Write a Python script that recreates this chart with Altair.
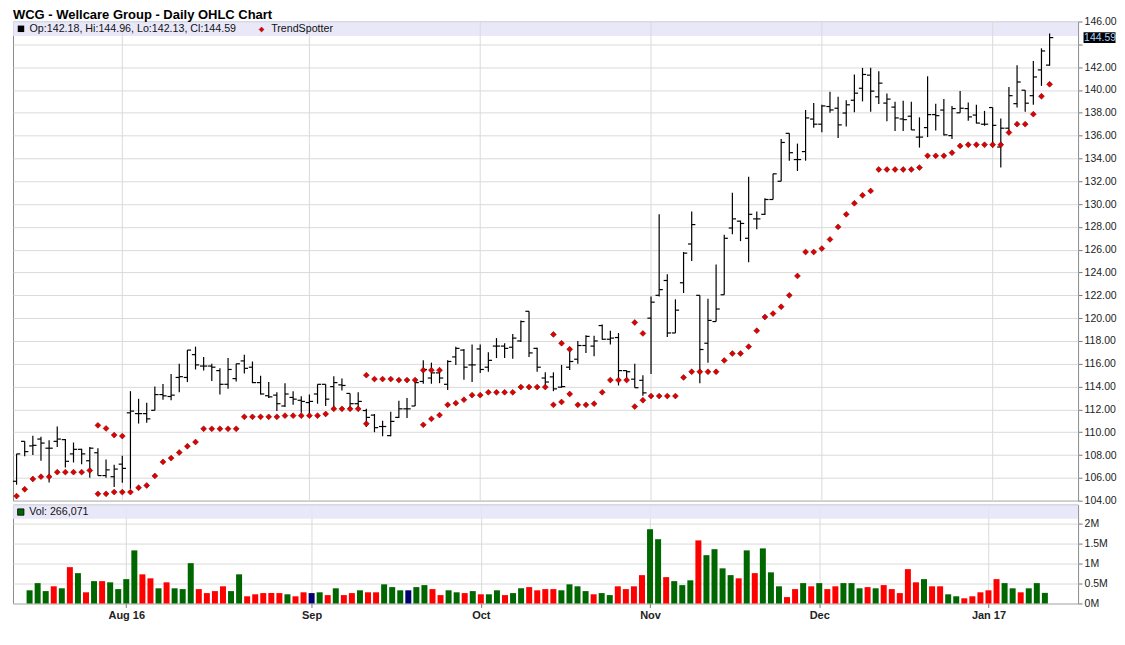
import altair as alt
import pandas as pd

chart_title = "WCG - Wellcare Group - Daily OHLC Chart"

opens = [105.7, 109.2, 108.8, 109.4, 108.6, 109.2, 109.35, 108.1, 108.5, 107.5,
         108.2, 106.2, 106.1, 107.2, 111.7, 111.63, 111.63, 111.92, 113.3, 113.13,
         114.8, 114.8, 116.8, 115.8, 115.8, 115.4, 114.2, 114.7, 116.25, 115.7,
         114.35, 113.2, 113.25, 112.3, 113.05, 112.8, 112.6, 113.35, 114.2, 114.0,
         114.15, 113.4, 112.5, 111.9, 111.5, 110.5, 109.7, 111.3, 112.05, 112.3,
         114.45, 114.75, 115.2, 114.2, 116.6, 117.2, 115.9, 117.3, 115.7, 117.55,
         117.55, 117.45, 118.0, 120.6, 117.35, 114.75, 114.85, 113.95, 115.7, 116.4,
         117.6, 117.55, 119.35, 118.15, 118.3, 115.4, 114.65, 114.55, 120.0, 122.0,
         123.3, 118.7, 123.1, 126.5, 122.0, 117.8, 119.7, 122.05, 127.9, 128.5,
         127.0, 128.7, 129.1, 130.4, 132.0, 136.2, 133.9, 134.6, 137.45, 137.0,
         138.55, 138.4, 137.98, 139.1, 140.15, 141.3, 139.4, 138.85, 138.5, 137.46,
         137.7, 135.87, 136.7, 137.84, 138.24, 136.0, 138.0, 138.37, 137.8, 137.0,
         138.46, 135.0, 136.65, 138.8, 139.98, 139.5, 141.76, 142.18]

highs = [108.1, 109.2, 109.7, 109.6, 109.3, 110.5, 109.4, 109.1, 108.55, 108.7,
         108.6, 107.6, 107.15, 107.93, 113.6, 112.93, 112.58, 114.0, 114.23, 115.1,
         116.0, 117.2, 117.5, 116.6, 116.0, 115.6, 116.5, 116.0, 116.8, 116.2,
         114.95, 114.4, 113.5, 114.3, 113.6, 113.15, 113.3, 114.2, 114.2, 114.9,
         114.7, 113.4, 113.5, 112.05, 111.6, 111.0, 111.8, 112.75, 113.0, 114.6,
         116.3, 116.1, 115.65, 116.3, 117.5, 117.3, 117.7, 117.7, 117.0, 118.25,
         117.8, 118.6, 119.8, 120.6, 117.4, 115.25, 115.25, 115.9, 117.35, 118.0,
         118.5, 118.45, 119.45, 118.9, 118.7, 115.4, 116.0, 115.0, 121.9, 129.1,
         123.85, 121.65, 125.8, 129.35, 122.0, 121.7, 124.7, 127.3, 131.0, 128.55,
         132.4, 129.35, 130.5, 132.65, 135.7, 136.2, 135.3, 138.25, 138.85, 138.7,
         139.85, 139.4, 139.1, 141.36, 141.94, 141.94, 141.65, 139.7, 138.97, 139.05,
         138.97, 137.6, 141.2, 138.8, 139.2, 138.6, 139.9, 138.9, 138.7, 138.17,
         138.46, 137.5, 140.27, 142.16, 139.98, 142.54, 143.65, 144.96]

lows = [105.4, 107.9, 108.0, 107.5, 105.6, 108.7, 106.9, 107.35, 107.2, 106.0,
        106.2, 106.0, 105.2, 105.56, 105.04, 110.76, 110.82, 111.92, 112.84, 112.8,
        113.5, 114.4, 115.5, 115.4, 114.5, 113.3, 113.8, 114.45, 115.15, 114.3,
        113.3, 113.0, 111.85, 112.2, 112.4, 111.7, 111.4, 112.5, 112.3, 112.05,
        113.65, 112.05, 112.05, 110.45, 110.0, 109.65, 109.65, 111.25, 111.25, 112.3,
        114.25, 114.25, 114.3, 113.7, 115.9, 114.6, 114.4, 115.2, 115.3, 116.5,
        116.5, 116.45, 117.9, 116.6, 115.3, 113.9, 113.6, 113.9, 115.45, 116.0,
        116.95, 116.65, 118.1, 117.7, 114.1, 114.5, 113.9, 113.2, 115.1, 121.9,
        118.35, 118.7, 122.2, 125.0, 114.3, 116.1, 119.7, 122.05, 127.35, 126.75,
        124.9, 127.8, 129.05, 130.4, 132.0, 133.8, 132.9, 133.8, 136.7, 136.3,
        138.0, 135.8, 136.8, 138.04, 139.0, 138.1, 138.76, 137.26, 136.4, 136.4,
        136.5, 134.95, 135.87, 136.45, 136.0, 135.7, 138.0, 137.3, 137.06, 136.86,
        134.96, 133.2, 136.27, 138.46, 138.1, 138.7, 140.36, 142.13]

closes = [108.1, 108.3, 108.85, 109.05, 108.6, 109.4, 107.45, 108.5, 108.1, 108.6,
          106.2, 106.7, 106.77, 106.83, 111.85, 111.63, 111.17, 113.3, 113.19, 113.25,
          114.87, 117.2, 115.9, 115.8, 115.7, 114.2, 115.5, 116.0, 115.6, 114.35,
          113.35, 113.1, 112.5, 113.35, 112.9, 112.7, 112.7, 114.2, 112.9, 114.35,
          114.1, 112.5, 112.7, 111.3, 110.4, 110.5, 110.95, 112.05, 112.05, 114.35,
          115.5, 115.2, 114.75, 116.2, 117.35, 115.7, 115.9, 115.5, 116.3, 117.55,
          117.35, 118.25, 119.7, 116.95, 115.7, 114.4, 113.8, 114.0, 116.2, 117.6,
          118.4, 118.0, 118.15, 118.25, 115.4, 115.3, 113.9, 113.45, 121.4, 122.5,
          118.7, 120.7, 125.7, 128.2, 117.25, 119.8, 120.8, 127.0, 128.7, 128.3,
          129.1, 128.7, 130.4, 132.65, 135.4, 134.5, 133.9, 137.55, 137.0, 138.6,
          138.25, 136.94, 138.7, 139.72, 141.36, 139.9, 140.6, 139.2, 137.55, 137.4,
          136.5, 135.87, 137.84, 137.75, 136.07, 138.37, 138.4, 137.64, 137.1, 137.0,
          136.9, 136.65, 139.5, 140.7, 138.84, 141.14, 143.42, 144.59]

trend_main = [104.4, 105.0, 105.9, 106.1, 106.1, 106.5, 106.5, 106.5, 106.5, 106.65,
              104.6, 104.6, 104.75, 104.75, 104.75, 105.13, 105.33, 106.17, 107.4, 107.73,
              108.22, 108.77, 109.14, 110.3, 110.3, 110.3, 110.3, 110.3, 111.35, 111.35,
              111.35, 111.35, 111.35, 111.45, 111.45, 111.45, 111.45, 111.45, 111.6, 112.05,
              112.05, 112.05, 112.05, 115.0, 114.66, 114.66, 114.66, 114.57, 114.57, 114.57,
              110.65, 111.17, 111.5, 112.4, 112.55, 112.85, 113.25, 113.25, 113.5, 113.5,
              113.5, 113.5, 113.96, 113.96, 113.96, 113.96, 118.57, 117.8, 117.27, 112.4,
              112.4, 112.5, 113.5, 114.57, 114.57, 114.57, 119.62, 118.66, 113.17, 113.17,
              113.17, 113.17, 114.8, 115.3, 115.3, 115.3, 115.3, 116.29, 116.9, 116.9,
              117.5, 118.9, 120.1, 120.4, 121.0, 122.0, 123.7, 125.8, 125.8, 126.1,
              126.9, 128.0, 129.1, 130.07, 130.77, 131.15, 133.03, 133.03, 133.03, 133.03,
              133.03, 133.2, 134.23, 134.23, 134.23, 134.5, 135.1, 135.2, 135.2, 135.2,
              135.2, 135.2, 136.27, 137.0, 137.0, 137.88, 139.45, 140.5]

# second TrendSpotter marker shown on a few days
trend_extra_idx = [10, 11, 12, 13, 43, 50, 51, 52, 66, 67, 68, 76, 77]
trend_extra_val = [110.6, 110.33, 109.75, 109.66, 110.74, 115.44, 115.44, 115.44,
                   112.4, 112.65, 113.35, 112.25, 112.8]

# volume in millions (first bar has no visible volume)
volumes = [None, 0.33, 0.51, 0.31, 0.43, 0.38, 0.91, 0.76, 0.28, 0.56,
           0.56, 0.53, 0.36, 0.61, 1.33, 0.73, 0.63, 0.38, 0.53, 0.38,
           0.36, 1.01, 0.36, 0.26, 0.31, 0.43, 0.31, 0.73, 0.18, 0.23,
           0.26, 0.26, 0.26, 0.23, 0.18, 0.28, 0.26, 0.28, 0.21, 0.38,
           0.21, 0.26, 0.33, 0.28, 0.28, 0.48, 0.41, 0.33, 0.33, 0.41,
           0.46, 0.36, 0.21, 0.33, 0.28, 0.26, 0.31, 0.23, 0.23, 0.33,
           0.21, 0.26, 0.38, 0.41, 0.33, 0.36, 0.36, 0.33, 0.48, 0.43,
           0.31, 0.23, 0.26, 0.21, 0.43, 0.36, 0.43, 0.71, 1.86, 1.61,
           0.66, 0.56, 0.46, 0.58, 1.58, 1.21, 1.36, 0.88, 0.71, 0.63,
           1.33, 0.76, 1.38, 0.78, 0.43, 0.16, 0.36, 0.51, 0.43, 0.51,
           0.36, 0.43, 0.51, 0.51, 0.38, 0.41, 0.38, 0.46, 0.36, 0.26,
           0.86, 0.53, 0.61, 0.43, 0.43, 0.23, 0.18, 0.13, 0.18, 0.28,
           0.33, 0.61, 0.51, 0.38, 0.28, 0.38, 0.51, 0.266]

vol_dir = [None,
           "up", "up", "up", "down", "up", "down", "up", "down", "up", "down",
           "up", "up", "up", "up", "down", "down", "up", "down", "up", "up",
           "up", "down", "down", "down", "down", "up", "up", "down", "down", "down",
           "down", "down", "up", "down", "down", "unch", "up", "down", "up", "down",
           "down", "up", "down", "down", "up", "up", "up", "unch", "up", "up",
           "down", "down", "up", "up", "down", "up", "down", "up", "up", "down",
           "up", "up", "down", "down", "down", "down", "up", "up", "up", "up",
           "down", "up", "up", "down", "down", "down", "down", "up", "up", "down",
           "up", "up", "up", "down", "up", "up", "up", "up", "down", "up",
           "down", "up", "up", "up", "down", "down", "up", "down", "up", "down",
           "down", "up", "up", "up", "down", "up", "down", "down", "down", "down",
           "down", "up", "down", "down", "up", "up", "down", "down", "down", "down",
           "down", "up", "up", "down", "up", "up", "up"]

last_volume = 266071

month_ticks = [13, 36, 57, 78, 99, 120]
month_labels = ["Aug 16", "Sep", "Oct", "Nov", "Dec", "Jan 17"]
price_ticks = list(range(104, 147, 2))
vol_ticks = [0, 0.5, 1, 1.5, 2]

# ---------------------------------------------------------------
W, HP, HV = 1067, 480, 99
FONT = "Liberation Sans"
GRID = "#dadada"

n = len(opens)
price_df = pd.DataFrame({"i": list(range(n)), "open": opens, "high": highs,
                         "low": lows, "close": closes})
dots_df = pd.concat([
    pd.DataFrame({"i": list(range(n)), "v": trend_main}),
    pd.DataFrame({"i": trend_extra_idx, "v": trend_extra_val}),
], ignore_index=True)
vol_df = pd.DataFrame({"i": list(range(n)), "vol": volumes, "dir": vol_dir}).dropna()
months_df = pd.DataFrame({"i": month_ticks, "label": month_labels})
one = pd.DataFrame({"k": [0]})

month_expr = "''"
for t, l in reversed(list(zip(month_ticks, month_labels))):
    month_expr = f"datum.value == {t} ? '{l}' : {month_expr}"

hidden_tick = 144
price_expr = f"datum.value == {hidden_tick} ? '' : format(datum.value, '.2f')"

xs = alt.Scale(domain=[-0.44, 130.5], nice=False, zero=False)
ys = alt.Scale(domain=[104, 146], nice=False, zero=False)
vs = alt.Scale(domain=[0, HV / 40.0], nice=False, zero=True)

y_axis_p = alt.Axis(orient="right", values=price_ticks, labelExpr=price_expr,
                    title=None, grid=True, gridColor=GRID, domain=False,
                    tickSize=4, tickColor="#777", labelPadding=2,
                    labelFont=FONT, labelFontSize=10.5, labelColor="#222")

band = alt.Chart(one).mark_rect(color="#e4e4f8", opacity=0.85).encode(
    x=alt.value(0), x2=alt.value(W), y=alt.value(0), y2=alt.value(14.5))

vgrid = alt.Chart(months_df).mark_rule(color=GRID, strokeWidth=1).encode(
    x=alt.X("i:Q", scale=xs, axis=None))

hl = alt.Chart(price_df).mark_rule(color="black", strokeWidth=1.2).encode(
    x=alt.X("i:Q", scale=xs, axis=None),
    y=alt.Y("low:Q", scale=ys, axis=y_axis_p),
    y2="high:Q")

otick = alt.Chart(price_df).transform_calculate(xo="datum.i - 0.45").mark_rule(
    color="black", strokeWidth=1.2).encode(
    x=alt.X("xo:Q", scale=xs, axis=None), x2="i:Q",
    y=alt.Y("open:Q", scale=ys, axis=y_axis_p))

ctick = alt.Chart(price_df).transform_calculate(xc="datum.i + 0.45").mark_rule(
    color="black", strokeWidth=1.2).encode(
    x=alt.X("i:Q", scale=xs, axis=None), x2="xc:Q",
    y=alt.Y("close:Q", scale=ys, axis=y_axis_p))

dots = alt.Chart(dots_df).mark_point(shape="diamond", filled=True, fill="#e00000",
                                     stroke="#7a0000", strokeWidth=0.6, size=34,
                                     opacity=1).encode(
    x=alt.X("i:Q", scale=xs, axis=None),
    y=alt.Y("v:Q", scale=ys, axis=y_axis_p))

title_txt = alt.Chart(one).mark_text(align="left", baseline="top", font=FONT,
                                     fontSize=13, fontWeight="bold",
                                     color="black").encode(
    x=alt.value(0), y=alt.value(-12.3), text=alt.value(chart_title))

leg_text = (f"Op:{opens[-1]:.2f}, Hi:{highs[-1]:.2f}, "
            f"Lo:{lows[-1]:.2f}, Cl:{closes[-1]:.2f}")
leg_sq = alt.Chart(one).mark_point(shape="square", filled=True, color="black",
                                   size=42, opacity=1).encode(
    x=alt.value(8), y=alt.value(7.3))
leg_t = alt.Chart(one).mark_text(align="left", baseline="middle", font=FONT,
                                 fontSize=10.7, color="#111").encode(
    x=alt.value(16.6), y=alt.value(7.8), text=alt.value(leg_text))
leg_d = alt.Chart(one).mark_point(shape="diamond", filled=True, fill="#e00000",
                                  stroke="#7a0000", strokeWidth=0.5, size=24,
                                  opacity=1).encode(
    x=alt.value(249), y=alt.value(8))
leg_t2 = alt.Chart(one).mark_text(align="left", baseline="middle", font=FONT,
                                  fontSize=10.7, color="#111").encode(
    x=alt.value(258.6), y=alt.value(7.8), text=alt.value("TrendSpotter"))

last_df = pd.DataFrame({"v": [closes[-1]], "t": [f"{closes[-1]:.2f}"]})
last_box = alt.Chart(last_df).mark_point(
    shape="M-1,-0.34L1,-0.34L1,0.34L-1,0.34Z", filled=True, color="black",
    size=1024, opacity=1, strokeWidth=0).encode(
    x=alt.value(W + 21.5), y=alt.Y("v:Q", scale=ys, axis=y_axis_p))
last_txt = alt.Chart(last_df).mark_text(align="left", baseline="middle", font=FONT,
                                        fontSize=10.5, color="#a8d4ff").encode(
    x=alt.value(W + 6), y=alt.Y("v:Q", scale=ys, axis=y_axis_p), text="t:N")

price = alt.layer(band, vgrid, hl, otick, ctick, dots, title_txt, leg_sq, leg_t,
                  leg_d, leg_t2, last_box, last_txt).properties(width=W, height=HP)

# ---------------- volume panel ----------------
x_axis_v = alt.Axis(values=month_ticks, labelExpr=month_expr, title=None, grid=True,
                    gridColor=GRID, domain=False, tickSize=4, tickColor="#777",
                    labelPadding=2, labelFont=FONT, labelFontSize=11,
                    labelFontWeight="bold", labelColor="#222")
y_axis_v = alt.Axis(orient="right", values=vol_ticks, labelExpr="datum.value + 'M'",
                    title=None, grid=True, gridColor=GRID, domain=False,
                    tickSize=4, tickColor="#777", labelPadding=2,
                    labelFont=FONT, labelFontSize=10.5, labelColor="#222")

vband = alt.Chart(one).mark_rect(color="#e4e4f8", opacity=0.85).encode(
    x=alt.value(0), x2=alt.value(W), y=alt.value(0), y2=alt.value(14))

vbars = alt.Chart(vol_df).mark_bar(size=6).encode(
    x=alt.X("i:Q", scale=xs, axis=x_axis_v),
    y=alt.Y("vol:Q", scale=vs, axis=y_axis_v),
    color=alt.Color("dir:N", scale=alt.Scale(domain=["up", "down", "unch"],
                                             range=["#006600", "#ff0000", "#000070"]),
                    legend=None))

vleg_sq = alt.Chart(one).mark_point(shape="square", filled=True, fill="#006600",
                                    stroke="black", strokeWidth=0.8, size=40,
                                    opacity=1).encode(
    x=alt.value(7.8), y=alt.value(7.4))
vleg_t = alt.Chart(one).mark_text(align="left", baseline="middle", font=FONT,
                                  fontSize=10.7, color="#111").encode(
    x=alt.value(16.2), y=alt.value(7.6), text=alt.value(f"Vol: {last_volume:,}"))

vol = alt.layer(vband, vbars, vleg_sq, vleg_t).properties(width=W, height=HV)

chart = alt.vconcat(price, vol, spacing=4, bounds="flush").properties(
    padding={"left": 3, "top": 0, "right": 0, "bottom": 2},
    background="white",
).configure_view(stroke="#8c8c8c", strokeWidth=1)

chart.save("out.html", embed_options={"renderer": "svg", "actions": False})
